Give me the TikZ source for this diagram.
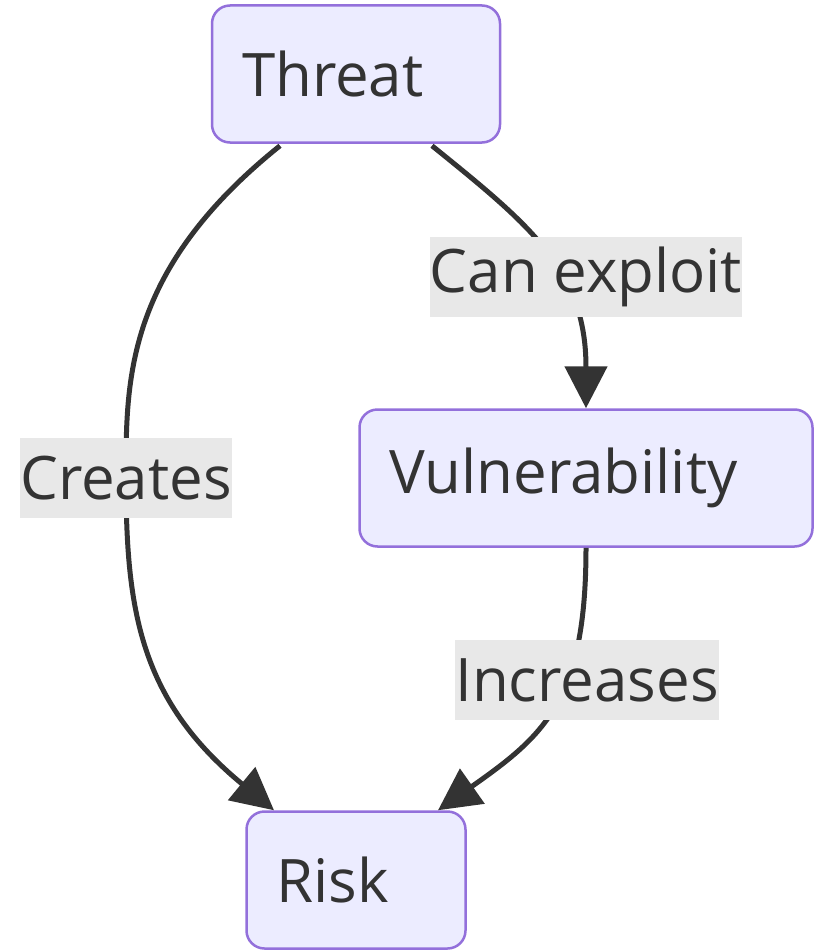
\documentclass[tikz,border=0pt]{standalone}
\usepackage{fontspec}
\setmainfont{Open Sans}
\usetikzlibrary{arrows.meta,calc}
\definecolor{nodefill}{HTML}{ECECFF}
\definecolor{nodedraw}{HTML}{9370DB}
\definecolor{edgecol}{HTML}{333333}
\definecolor{labfill}{HTML}{E8E8E8}
\begin{document}
\begin{tikzpicture}[x=1pt,y=1pt,
  box/.style={draw=nodedraw,fill=nodefill,line width=2.5pt,rounded corners=18pt,
    inner xsep=30pt,inner ysep=0pt,align=left,minimum height=137pt,
    font=\fontsize{60}{72}\selectfont,text=edgecol},
  elabel/.style={fill=labfill,inner xsep=0pt,inner ysep=0pt,minimum height=80pt,
    font=\fontsize{60}{72}\selectfont,text=edgecol},
  edge/.style={draw=edgecol,line width=5pt,-{Triangle[length=42pt,width=42pt]}}]
\useasboundingbox (0,0) rectangle (823,-950);
\node[box,text width=228pt] (threat) at (356,-74) {Threat};
\node[box,text width=393pt] (vuln) at (586,-478) {Vulnerability};
\node[box,text width=159pt] (risk) at (356,-880) {Risk};
\coordinate (creates) at (126,-478);
\coordinate (exploit) at (586,-277);
\coordinate (incr) at (587,-680);
\draw[edge] ($(threat.south)+(-76,-2)$) .. controls (125,-270) and (126,-380) .. (creates)
   .. controls (126,-610) and (140,-700) .. ($(risk.north)+(-82,0)$);
\draw[edge] ($(threat.south)+(76,-2)$) .. controls (530,-225) and (586,-270) .. (vuln.north);
\draw[edge] (vuln.south) .. controls (586,-700) and (545,-735) .. ($(risk.north)+(82,0)$);
\node[elabel,minimum width=212pt] at (creates) {Creates};
\node[elabel,minimum width=308pt] at (exploit) {Can exploit};
\node[elabel,minimum width=261pt] at (incr) {Increases};
\end{tikzpicture}
\end{document}
